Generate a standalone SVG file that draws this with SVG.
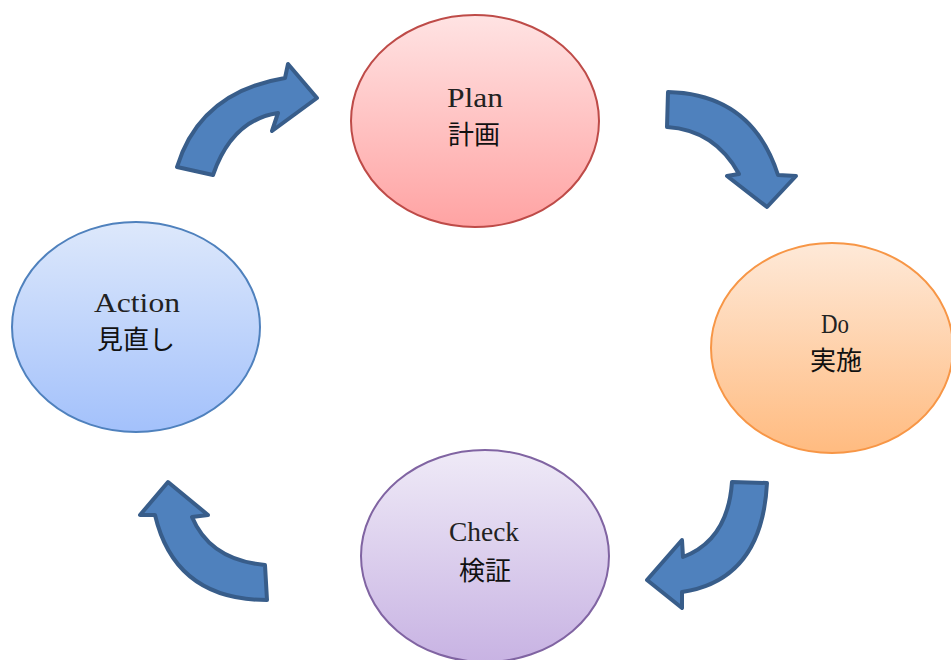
<svg xmlns="http://www.w3.org/2000/svg" width="951" height="660" viewBox="0 0 951 660">
<style>
.lat{font-family:"Liberation Serif","DejaVu Serif",serif;font-size:27px;fill:#222;text-anchor:middle}
.cjk{font-family:"Noto Sans CJK JP","Noto Sans CJK SC",sans-serif;font-size:26px;fill:#111;text-anchor:middle}
.arr{fill:#4f81bd;stroke:#385d8a;stroke-width:4;stroke-linejoin:round}
</style>
<defs>
<linearGradient id="gP" x1="0" y1="0" x2="0" y2="1"><stop offset="0" stop-color="#ffe3e3"/><stop offset="1" stop-color="#ffa3a3"/></linearGradient>
<linearGradient id="gD" x1="0" y1="0" x2="0" y2="1"><stop offset="0" stop-color="#fee9d8"/><stop offset="1" stop-color="#ffbb80"/></linearGradient>
<linearGradient id="gC" x1="0" y1="0" x2="0" y2="1"><stop offset="0" stop-color="#efeaf7"/><stop offset="1" stop-color="#c8b3e3"/></linearGradient>
<linearGradient id="gA" x1="0" y1="0" x2="0" y2="1"><stop offset="0" stop-color="#dde8fb"/><stop offset="1" stop-color="#a3c1fb"/></linearGradient>
</defs>
<rect width="951" height="660" fill="#fff"/>
<g id="connectors">
<path class="arr" d="M177,167 Q200,92 285,78 L288,64 L317,98 L272,131 L278,113 Q232,120 213,175 Z"/>
<path class="arr" d="M668,92 Q752,94 778,175 L796,176 L767,207 L727,176 L739,174 Q715,130 667,127 Z"/>
<path class="arr" d="M732,482 Q728,540 683,557 L682,540 L647,580 L682,608 L682,592 Q762,580 767,483 Z"/>
<path class="arr" d="M265,565 Q210,560 192,517 L208,515 L168,482 L140,515 L155,515 Q175,600 267,600 Z"/>
</g>
<g id="plan">
<ellipse cx="475" cy="121" rx="124" ry="106" fill="url(#gP)" stroke="#be4b48" stroke-width="2"/>
<text class="lat" x="475" y="107" textLength="56" lengthAdjust="spacingAndGlyphs">Plan</text>
<text class="cjk" x="474" y="144">計画</text>
</g>
<g id="do">
<ellipse cx="832" cy="348" rx="121" ry="105" fill="url(#gD)" stroke="#f79646" stroke-width="2"/>
<text class="lat" x="835" y="333" textLength="28" lengthAdjust="spacingAndGlyphs">Do</text>
<text class="cjk" x="836" y="370">実施</text>
</g>
<g id="check">
<ellipse cx="485" cy="556" rx="124" ry="106" fill="url(#gC)" stroke="#8064a2" stroke-width="2"/>
<text class="lat" x="484" y="541" textLength="70" lengthAdjust="spacingAndGlyphs">Check</text>
<text class="cjk" x="485" y="580">検証</text>
</g>
<g id="action">
<ellipse cx="136" cy="327" rx="124" ry="105" fill="url(#gA)" stroke="#4f81bd" stroke-width="2"/>
<text class="lat" x="137" y="312" textLength="86" lengthAdjust="spacingAndGlyphs">Action</text>
<text class="cjk" x="136" y="349">見直し</text>
</g>
</svg>
